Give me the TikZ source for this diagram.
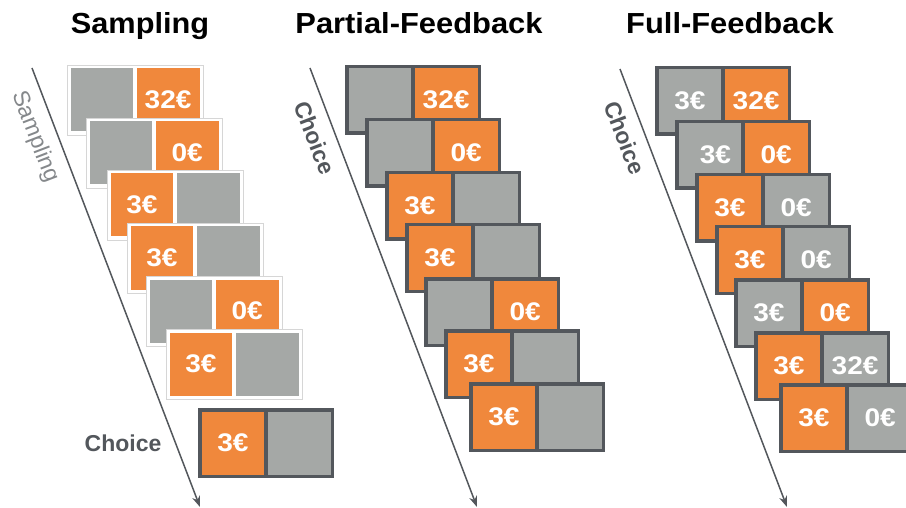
\documentclass[tikz,border=0pt]{standalone}
\usepackage{fontspec}
\setmainfont{Liberation Sans}
\usetikzlibrary{arrows.meta}
\definecolor{orng}{HTML}{F0883C}
\definecolor{gry}{HTML}{A5A8A6}
\definecolor{drk}{HTML}{53575C}
\definecolor{lgry}{HTML}{D6D6D6}
\definecolor{lbl}{HTML}{85888B}
\tikzset{
  cardD/.style={fill=drk, draw=none, minimum width=136pt, minimum height=70pt, inner sep=0pt, outer sep=0pt, anchor=north west},
  cardL/.style={fill=white, draw=lgry, line width=0.8pt, minimum width=136pt, minimum height=70pt, inner sep=0pt, outer sep=0pt, anchor=north west},
  sq/.style={draw=none, minimum width=62.75pt, minimum height=63pt, inner sep=0pt, outer sep=0pt, anchor=north west, text=white, font=\fontsize{25.5}{25.5}\selectfont\bfseries},
  ttl/.style={anchor=base, font=\fontsize{29}{29}\selectfont\bfseries, text=black},
  lab/.style={font=\fontsize{23}{23}\selectfont\bfseries, text=drk},
  arr/.style={draw=drk, line width=1.5pt, -{Stealth[length=11pt,width=8pt]}}
}
% #1 name, #2 x, #3 y, #4 card style, #5 left fill, #6 left text, #7 right fill, #8 right text
\newcommand\mkcard[8]{%
  \node[#4] (#1) at (#2,#3) {};
  \node[sq, fill=#5] (#1l) at ({#2+3.5},{#3+3.5}) {\scalebox{1.1}[1]{#6}};
  \node[sq, fill=#7] (#1r) at ({#2+69.75},{#3+3.5}) {\scalebox{1.1}[1]{#8}};
}
\begin{document}
\begin{tikzpicture}[x=1pt,y=-1pt]
\useasboundingbox (0,0) rectangle (906,508);
\clip (0,0) rectangle (906,508);
% titles
\node[ttl] (t1) at (140,34) {\scalebox{1.06}[1]{Sampling}};
\node[ttl] (t2) at (419,34) {\scalebox{1.065}[1]{Partial-Feedback}};
\node[ttl] (t3) at (730,34) {\scalebox{1.065}[1]{Full-Feedback}};
% arrows
\coordinate (s1) at (32,68);  \coordinate (e1) at (200,507);
\coordinate (s2) at (310,68); \coordinate (e2) at (477,507);
\coordinate (s3) at (620,69); \coordinate (e3) at (787,507);
\draw[arr] (s1) -- (e1);
\draw[arr] (s2) -- (e2);
\draw[arr] (s3) -- (e3);
% axis labels
\node[rotate=-69, text=lbl, font=\fontsize{23}{23}\selectfont] (lsamp) at (35,137) {Sampling};
\node[lab, rotate=-69] (lch2) at (315,138) {Choice};
\node[lab, rotate=-69] (lch3) at (625,138) {Choice};
\node[lab] (lch1) at (123,443) {Choice};
% Sampling column
\mkcard{a1}{67}{65}{cardL}{gry}{}{orng}{32€}
\mkcard{a2}{86}{118}{cardL}{gry}{}{orng}{0€}
\mkcard{a3}{107}{170}{cardL}{orng}{3€}{gry}{}
\mkcard{a4}{127}{223}{cardL}{orng}{3€}{gry}{}
\mkcard{a5}{146}{276}{cardL}{gry}{}{orng}{0€}
\mkcard{a6}{166}{329}{cardL}{orng}{3€}{gry}{}
\mkcard{a7}{198}{408}{cardD}{orng}{3€}{gry}{}
% Partial-Feedback column
\mkcard{b1}{345}{65}{cardD}{gry}{}{orng}{32€}
\mkcard{b2}{365}{118}{cardD}{gry}{}{orng}{0€}
\mkcard{b3}{385}{171}{cardD}{orng}{3€}{gry}{}
\mkcard{b4}{405}{223}{cardD}{orng}{3€}{gry}{}
\mkcard{b5}{424}{277}{cardD}{gry}{}{orng}{0€}
\mkcard{b6}{444}{329}{cardD}{orng}{3€}{gry}{}
\mkcard{b7}{469}{382}{cardD}{orng}{3€}{gry}{}
% Full-Feedback column
\mkcard{c1}{655}{66}{cardD}{gry}{3€}{orng}{32€}
\mkcard{c2}{675}{120}{cardD}{gry}{\hspace{10pt}\raisebox{-10pt}{3€}}{orng}{0€}
\mkcard{c3}{695}{173}{cardD}{orng}{3€}{gry}{0€}
\mkcard{c4}{715}{225}{cardD}{orng}{3€}{gry}{0€}
\mkcard{c5}{734}{278}{cardD}{gry}{3€}{orng}{0€}
\mkcard{c6}{754}{331}{cardD}{orng}{3€}{gry}{32€}
\mkcard{c7}{779}{383}{cardD}{orng}{3€}{gry}{0€}
\end{tikzpicture}
\end{document}
